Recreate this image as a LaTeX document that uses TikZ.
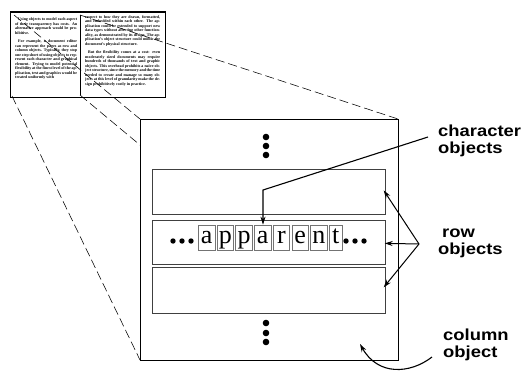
\documentclass[tikz,border=0pt]{standalone}
\usepackage{fontspec}
\setmainfont{Liberation Serif}
\newfontfamily\labelfont{Liberation Sans}[FakeStretch=1.15]
\usetikzlibrary{arrows.meta,calc}
\begin{document}
\begin{tikzpicture}[x=1pt,y=-1pt,
  proj/.style={draw=black, line width=0.55pt, dash pattern=on 9pt off 4pt},
  rowbox/.style={draw=black!75, line width=0.7pt, minimum width=233pt, inner sep=0pt, anchor=north west},
  letterbox/.style={draw=black!55, line width=0.7pt, inner sep=0pt, minimum width=16.5pt,
    text height=18pt, text depth=7pt, font=\fontsize{26}{26}\selectfont, anchor=west},
  bigdot/.style={circle, fill=black, inner sep=0pt, minimum size=6.6pt},
  smalldot/.style={circle, fill=black, inner sep=0pt, minimum size=5.4pt},
  lbl/.style={font=\labelfont\bfseries\fontsize{16}{16}\selectfont, anchor=base west, inner sep=0pt},
  ptr/.style={draw=black, line width=1.1pt, -{Stealth[length=8pt,width=5pt]}},
  thumbtext/.style={anchor=north west, inner sep=0pt, align=justify,
    font=\fontsize{4}{4.5}\selectfont\bfseries},
]
\useasboundingbox (0,0) rectangle (530,373);

% thumbnail page
\node[draw=black, line width=1.1pt, minimum width=155pt, minimum height=85pt,
  anchor=north west, inner sep=0pt] (thumb) at (10,12) {};
\draw[line width=1.6pt] (thumb.north west) -- (thumb.north east);
\node[thumbtext, text width=62pt] (colL) at (15,18) {\sloppy
\hspace*{3pt}Using objects to model each aspect of their transparency has costs. An alternative approach would be prohibitive.\par\vspace{4pt}
\hspace*{3pt}For example, a document editor can represent the pages as row and column objects. Typically, they stop one step short of using objects to represent each character and graphical element. Trying to model potential flexibility at the finest level of the application, text and graphics would be treated uniformly with};
\node[thumbtext, text width=75pt] (colR) at (85,15) {\sloppy
respect to how they are drawn, formatted, and embedded within each other. The application could be extended to support new data types without affecting other functionality, as demonstrated by its design. The application's object structure could mimic the document's physical structure.\par\vspace{4pt}
\hspace*{3pt}But the flexibility comes at a cost: even moderately sized documents may require hundreds of thousands of text and graphic objects. This overhead prohibits a naive object structure, since the memory and the time needed to create and manage so many objects at this level of granularity make the design prohibitively costly in practice.};
\coordinate (cTL) at (14,15);
\coordinate (cTR) at (80,15);
\coordinate (cBL) at (12,96);
\coordinate (cBR) at (80,95);
\draw[line width=0.8pt] (cTR) -- (cBR);

% main column box corners
\coordinate (mTL) at (140,119);
\coordinate (mBR) at (398,360);

% projection lines
\draw[proj] (cTL) -- (mTL);
\draw[proj] (cTR) -- (mBR |- mTL);
\draw[proj] (cBL) -- (mTL |- mBR);
\draw[proj] (cBR) -- (mBR);

% column object
\node[draw=black, fill=white, line width=0.9pt, minimum width=258pt, minimum height=241pt,
  anchor=north west, inner sep=0pt] (main) at (mTL) {};

% vertical ellipses
\node[bigdot] (t1) at (266,137) {};
\node[bigdot] (t2) at (266,146) {};
\node[bigdot] (t3) at (266,155) {};
\node[bigdot] (b1) at (266,323) {};
\node[bigdot] (b2) at (266,333) {};
\node[bigdot] (b3) at (266,342) {};

% row objects
\node[rowbox, minimum height=45pt] (row1) at (152,169) {};
\node[rowbox, minimum height=44pt] (row2) at (152,220) {};
\node[rowbox, minimum height=46pt] (row3) at (152,267) {};

% characters
\node[smalldot] (ld1) at (173,241) {};
\node[smalldot] (ld2) at (182,241) {};
\node[smalldot] (ld3) at (191,241) {};
\node[letterbox] (c1) at (198,237.5) {a};
\node[letterbox] (c2) at ($(c1.east)+(1.5,0)$) {p};
\node[letterbox] (c3) at ($(c2.east)+(1.5,0)$) {p};
\node[letterbox] (c4) at ($(c3.east)+(1.5,0)$) {a};
\node[letterbox] (c5) at ($(c4.east)+(1.5,0)$) {r};
\node[letterbox] (c6) at ($(c5.east)+(1.5,0)$) {e};
\node[letterbox] (c7) at ($(c6.east)+(1.5,0)$) {n};
\node[letterbox, minimum width=13pt] (c8) at ($(c7.east)+(1.5,0)$) {t};
\node[smalldot] (rd1) at (346,241) {};
\node[smalldot] (rd2) at (355,241) {};
\node[smalldot] (rd3) at (364,241) {};

% labels
\node[lbl] (lch1) at (438,136) {character};
\node[lbl] (lch2) at (438,153) {objects};
\node[lbl] (lrow1) at (442,237) {row};
\node[lbl] (lrow2) at (438,254) {objects};
\node[lbl] (lcol1) at (443,340) {column};
\node[lbl] (lcol2) at (443,357) {object};

% character pointer
\coordinate (cstart) at (428,137);
\coordinate (cbend) at (263,190);
\draw[ptr] (cstart) -- (cbend) -- (cbend |- c4.north);

% row pointers
\coordinate (rv) at (419,244);
\draw[ptr, line width=1pt] (rv) -- ($(row1.east)+(-2,-1.5)$);
\draw[ptr, line width=1pt] (rv) -- ($(row2.east)+(-1,1)$);
\draw[ptr, line width=1pt] (rv) -- ($(row3.east)+(-2,-3)$);

% column pointer
\coordinate (colstart) at (432,357);
\coordinate (colend) at (360,344);
\draw[ptr] (colstart) .. controls (410,374) and (378,376) .. (colend);
\end{tikzpicture}
\end{document}
